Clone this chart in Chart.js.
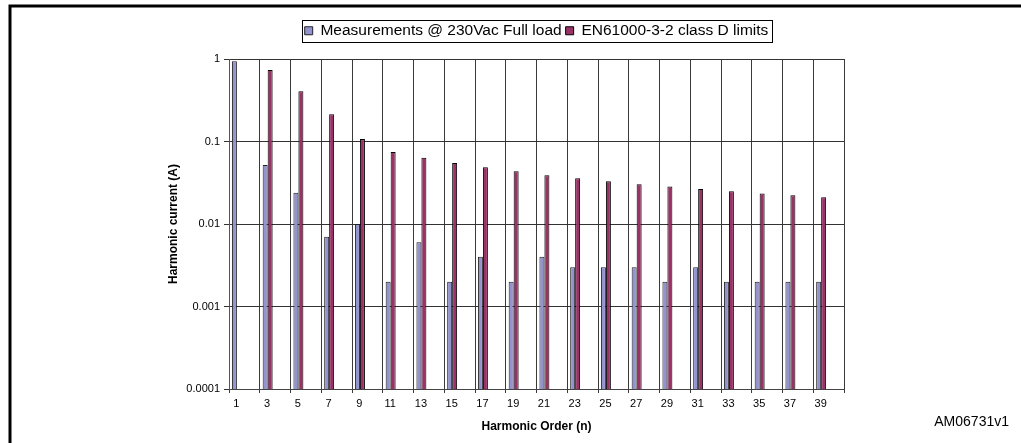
<!DOCTYPE html>
<html>
<head>
<meta charset="utf-8">
<script src="https://cdn.jsdelivr.net/npm/chart.js@4/dist/chart.umd.min.js"></script>
<style>
  html, body { margin: 0; padding: 0; background: #fff; }
  #wrap { width: 1021px; height: 443px; }
</style>
</head>
<body>
<div id="wrap"><canvas id="harmonics"></canvas></div>
<script>
const harmonicOrders = ["1", "3", "5", "7", "9", "11", "13", "15", "17", "19",
  "21", "23", "25", "27", "29", "31", "33", "35", "37", "39"];

const measured = [0.94, 0.052, 0.024, 0.007, 0.01, 0.002, 0.006, 0.002, 0.004, 0.002,
  0.004, 0.003, 0.003, 0.003, 0.002, 0.003, 0.002, 0.002, 0.002, 0.002];

const classDLimits = [null, 0.735, 0.406, 0.214, 0.107, 0.0746, 0.0637, 0.055, 0.0486, 0.0436,
  0.039, 0.0358, 0.0329, 0.0303, 0.0284, 0.0266, 0.0249, 0.0235, 0.0223, 0.0211];

const yTickValues = [0.0001, 0.001, 0.01, 0.1, 1];

const seriesNames = ["Measurements @ 230Vac Full load", "EN61000-3-2 class D limits"];

const font = "'Liberation Sans', Arial, sans-serif";

// empty slots so the bar pair sits on the left side of each category, like the Excel original
const spacer = () => ({ label: "", data: harmonicOrders.map(() => null), backgroundColor: "rgba(0,0,0,0)" });

// outer frame + figure code
const framePlugin = {
  id: "frame",
  beforeDraw(chart) {
    const c = chart.ctx;
    c.save();
    c.strokeStyle = "#000";
    c.lineWidth = 3;
    c.beginPath();
    c.moveTo(10, 443);
    c.lineTo(10, 6);
    c.lineTo(1021, 6);
    c.stroke();
    c.restore();
  },
  afterDraw(chart) {
    const c = chart.ctx;
    c.save();
    c.fillStyle = "#000";
    c.font = "14px " + font;
    c.textAlign = "right";
    c.textBaseline = "alphabetic";
    c.fillText("AM06731v1", 1009, 426);
    c.restore();
  }
};

// box around the legend
const legendBox = {
  id: "legendBox",
  afterDraw(chart) {
    const boxes = chart.legend.legendHitBoxes.filter((b, i) => i < 2);
    if (!boxes.length) return;
    const left = Math.min(...boxes.map(b => b.left)) - 3;
    const right = Math.max(...boxes.map(b => b.left + b.width)) + 3;
    const top = boxes[0].top - 3;
    const h = boxes[0].height + 6;
    const c = chart.ctx;
    c.save();
    c.strokeStyle = "#000";
    c.lineWidth = 1;
    c.strokeRect(Math.round(left) + 0.5, Math.round(top) + 0.5, Math.round(right - left), Math.round(h));
    c.restore();
  }
};

new Chart(document.getElementById("harmonics"), {
  type: "bar",
  data: {
    labels: harmonicOrders,
    datasets: [
      {
        label: seriesNames[0],
        data: measured,
        backgroundColor: "#9393cf",
        borderColor: "#222",
        borderWidth: 1,
      },
      {
        label: seriesNames[1],
        data: classDLimits,
        backgroundColor: "#993366",
        borderColor: "#000",
        borderWidth: 1,
      },
      spacer(), spacer(), spacer(),
    ],
  },
  options: {
    responsive: true,
    maintainAspectRatio: false,
    animation: false,
    datasets: { bar: { categoryPercentage: 0.81, barPercentage: 1.0 } },
    layout: { padding: { top: 19, left: 160, right: 177, bottom: 9 } },
    plugins: {
      tooltip: { enabled: false },
      legend: {
        position: "top",
        fullSize: false,
        labels: {
          filter: (item) => item.datasetIndex < 2,
          boxWidth: 8,
          boxHeight: 8,
          padding: 4,
          color: "#000",
          font: { family: font, size: 15.5 },
        },
      },
      // empty gap between legend and plot
      title: {
        display: true,
        text: "",
        weight: 500,
        fullSize: false,
        font: { size: 1 },
        padding: { top: 0, bottom: 9.3 },
      },
    },
    scales: {
      x: {
        offset: true,
        grid: {
          offset: true,
          color: (ctx) => (ctx.index === harmonicOrders.length ? "rgba(0,0,0,0)" : "#3a3a3a"),
          tickLength: 4,
        },
        border: { color: "#444" },
        ticks: {
          color: "#000",
          labelOffset: -8,
          padding: 4,
          font: { family: font, size: 11 },
        },
        title: {
          display: true,
          text: "Harmonic Order (n)",
          color: "#000",
          font: { family: font, size: 12, weight: "bold" },
          padding: { top: 4, bottom: 0 },
        },
        afterFit: (scale) => { scale.height = 45; },
      },
      y: {
        type: "logarithmic",
        min: 0.0001,
        max: 1,
        afterBuildTicks: (scale) => { scale.ticks = yTickValues.map(v => ({ value: v })); },
        grid: { color: "#333", tickLength: 5 },
        border: { color: "#555" },
        ticks: {
          color: "#000",
          padding: 4,
          font: { family: font, size: 11 },
          callback: (v) => String(v),
        },
        title: {
          display: true,
          text: "Harmonic current (A)",
          color: "#000",
          font: { family: font, size: 12, weight: "bold" },
          padding: { top: 6, bottom: 0 },
        },
        afterFit: (scale) => { scale.width = 69; },
      },
    },
  },
  plugins: [framePlugin, legendBox],
});
</script>
</body>
</html>
